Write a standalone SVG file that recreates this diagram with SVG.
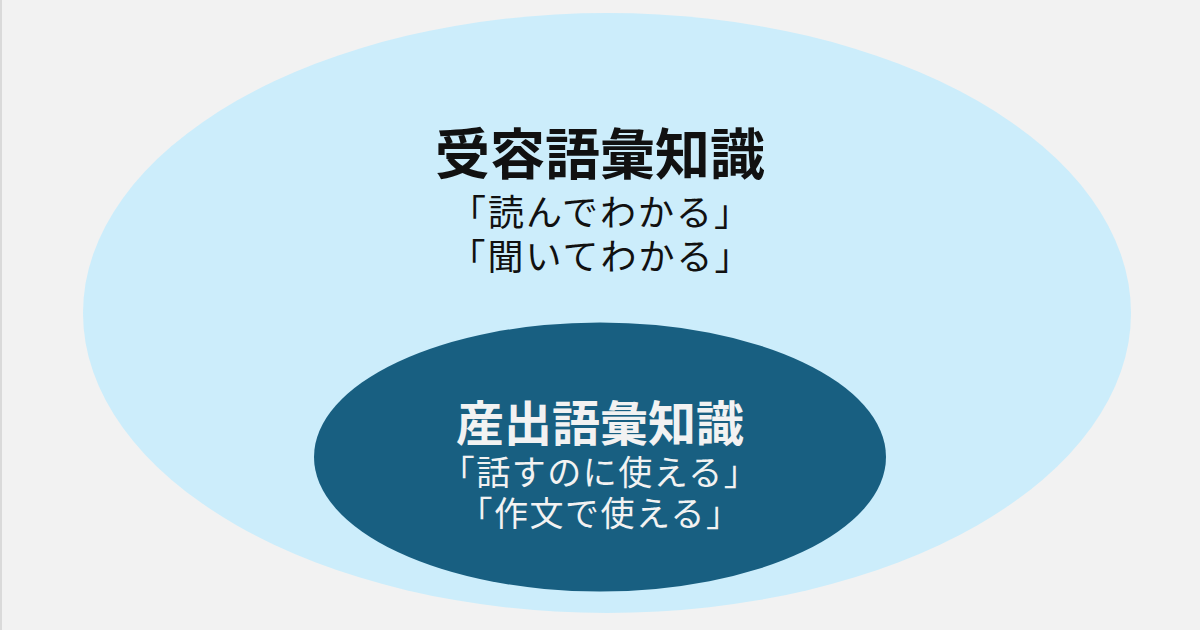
<svg xmlns="http://www.w3.org/2000/svg" width="1200" height="630" viewBox="0 0 1200 630">
  <style>
    .jp { font-family: "Noto Sans CJK JP", "Noto Sans", sans-serif; text-anchor: middle; }
    .title { font-size: 55px; font-weight: 700; }
    .title2 { font-size: 48px; font-weight: 700; }
    .sub { font-size: 36px; font-weight: 400; letter-spacing: 2px; }
    .sub2 { font-size: 34px; font-weight: 400; letter-spacing: 1.5px; }
    .dark { fill: #111111; }
    .light { fill: #f2f2f2; }
  </style>
  <rect x="0" y="0" width="1200" height="630" fill="#f2f2f2"/>
  <rect x="0" y="0" width="2" height="630" fill="#dadada"/>
  <g id="connectors"/>
  <g id="receptive">
    <ellipse cx="607" cy="313" rx="524" ry="300" fill="#ccedfb"/>
    <text class="jp title dark" x="600" y="174">受容語彙知識</text>
    <text class="jp sub dark" x="601" y="226">「読んでわかる」</text>
    <text class="jp sub dark" x="601" y="270">「聞いてわかる」</text>
  </g>
  <g id="productive">
    <ellipse cx="600" cy="457" rx="286" ry="134.5" fill="#185f81"/>
    <text class="jp title2 light" x="600" y="441">産出語彙知識</text>
    <text class="jp sub2 light" x="600" y="485">「話すのに使える」</text>
    <text class="jp sub2 light" x="600" y="526">「作文で使える」</text>
  </g>
</svg>
